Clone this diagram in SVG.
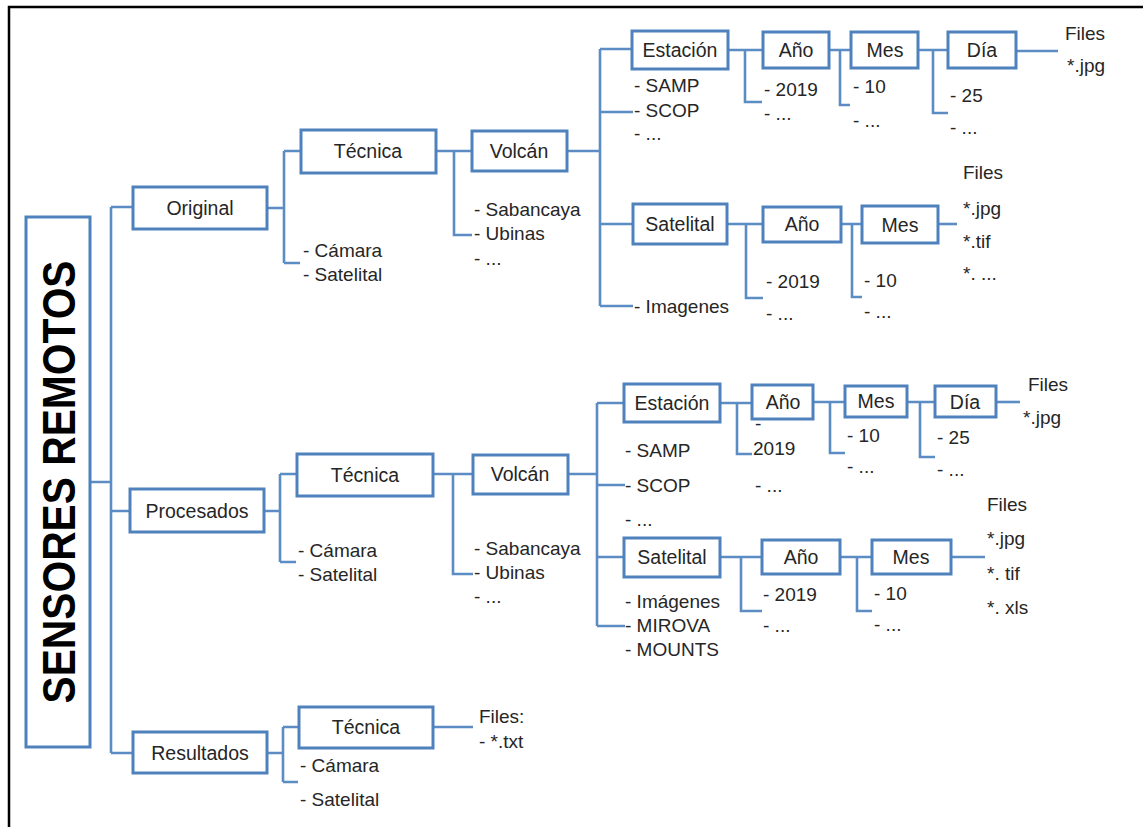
<svg xmlns="http://www.w3.org/2000/svg" width="1143" height="827" viewBox="0 0 1143 827">
<style>
.box{fill:#fff;stroke:#4F81BD;stroke-width:3}
.ln{fill:none;stroke:#5B8CC4;stroke-width:2.6}
text{font-family:"Liberation Sans",Arial,sans-serif;fill:#262626}
.lb{font-size:19.5px;text-anchor:middle}
.t{font-size:19px}
.title{font-size:46px;font-weight:bold;fill:#000;text-anchor:middle}
</style>
<rect x="9" y="7" width="1145" height="830" fill="#fff" stroke="#000" stroke-width="2.5"/>

<g id="connectors">
<path class="ln" d="M90 482H111M111 207V753M111 207H133M111 511H130M111 753H133"/>
<!-- Original -->
<path class="ln" d="M267 208H284M284 151V263M284 151H301M284 263H300"/>
<path class="ln" d="M436 151H472M454 151V235H472"/>
<path class="ln" d="M567 151H600M600 49V306M600 49H632M600 112H633M600 224H633M600 306H633"/>
<path class="ln" d="M728 50H763M745 50V102H762"/>
<path class="ln" d="M829 50H851M840 50V105H850"/>
<path class="ln" d="M918 50H948M933 50V113H948"/>
<path class="ln" d="M1016 51H1058"/>
<path class="ln" d="M727 224H763M746 224V298H763"/>
<path class="ln" d="M841 224H862M852 224V297H862"/>
<path class="ln" d="M938 224H957"/>
<!-- Procesados -->
<path class="ln" d="M264 511H280M280 474V562M280 474H297M280 562H296"/>
<path class="ln" d="M433 474H473M453 474V574H473"/>
<path class="ln" d="M568 474H597M597 403V626M597 403H624M597 485H625M597 557H624M597 626H625"/>
<path class="ln" d="M720 403H752M737 403V454H752"/>
<path class="ln" d="M813 402H845M830 402V453H845"/>
<path class="ln" d="M907 402H935M920 402V457H935"/>
<path class="ln" d="M996 402H1020"/>
<path class="ln" d="M720 557H762M741 557V611H762"/>
<path class="ln" d="M840 557H872M857 557V611H872"/>
<path class="ln" d="M951 557H985"/>
<!-- Resultados -->
<path class="ln" d="M267 753H283M283 727V782M283 727H299M283 782H298"/>
<path class="ln" d="M433 727H473"/>
</g>

<g id="sensores">
<rect class="box" x="26" y="217" width="64" height="530"/>
<text class="title" transform="translate(75 482) rotate(-90)" textLength="443" lengthAdjust="spacingAndGlyphs">SENSORES REMOTOS</text>
</g>

<g id="original"><rect class="box" x="133" y="187" width="134" height="42"/><text class="lb" x="200" y="215">Original</text></g>
<g id="procesados"><rect class="box" x="130" y="489" width="134" height="43"/><text class="lb" x="197" y="518">Procesados</text></g>
<g id="resultados"><rect class="box" x="133" y="732" width="134" height="41"/><text class="lb" x="200" y="760">Resultados</text></g>

<!-- Original branch -->
<g id="tecnica1"><rect class="box" x="301" y="130" width="135" height="43"/><text class="lb" x="368" y="158">Técnica</text></g>
<g id="tecnica1-list"><text class="t" x="303" y="257">- Cámara</text><text class="t" x="303" y="281">- Satelital</text></g>
<g id="volcan1"><rect class="box" x="472" y="131" width="95" height="40"/><text class="lb" x="519" y="158">Volcán</text></g>
<g id="volcan1-list"><text class="t" x="474" y="216">- Sabancaya</text><text class="t" x="474" y="240">- Ubinas</text><text class="t" x="474" y="265">- ...</text></g>
<g id="estacion1"><rect class="box" x="632" y="31" width="96" height="38"/><text class="lb" x="680" y="57">Estación</text></g>
<g id="estacion1-list"><text class="t" x="634" y="92">- SAMP</text><text class="t" x="634" y="117">- SCOP</text><text class="t" x="634" y="140">- ...</text></g>
<g id="anio1"><rect class="box" x="763" y="32" width="66" height="36"/><text class="lb" x="796" y="57">Año</text></g>
<g id="anio1-list"><text class="t" x="764" y="96">- 2019</text><text class="t" x="764" y="120">- ...</text></g>
<g id="mes1"><rect class="box" x="851" y="32" width="67" height="36"/><text class="lb" x="885" y="57">Mes</text></g>
<g id="mes1-list"><text class="t" x="853" y="93">- 10</text><text class="t" x="853" y="127">- ...</text></g>
<g id="dia1"><rect class="box" x="948" y="32" width="68" height="36"/><text class="lb" x="982" y="57">Día</text></g>
<g id="dia1-list"><text class="t" x="950" y="102">- 25</text><text class="t" x="950" y="134">- ...</text></g>
<g id="files1"><text class="t" x="1065" y="40">Files</text><text class="t" x="1067" y="72">*.jpg</text></g>
<g id="satelital1"><rect class="box" x="633" y="204" width="94" height="40"/><text class="lb" x="680" y="231">Satelital</text></g>
<g id="satelital1-list"><text class="t" x="634" y="313">- Imagenes</text></g>
<g id="anio2"><rect class="box" x="763" y="207" width="78" height="35"/><text class="lb" x="802" y="231">Año</text></g>
<g id="anio2-list"><text class="t" x="766" y="288">- 2019</text><text class="t" x="766" y="320">- ...</text></g>
<g id="mes2"><rect class="box" x="862" y="206" width="76" height="37"/><text class="lb" x="900" y="232">Mes</text></g>
<g id="mes2-list"><text class="t" x="864" y="287">- 10</text><text class="t" x="864" y="318">- ...</text></g>
<g id="files2"><text class="t" x="963" y="179">Files</text><text class="t" x="963" y="215">*.jpg</text><text class="t" x="963" y="248">*.tif</text><text class="t" x="963" y="280">*. ...</text></g>

<!-- Procesados branch -->
<g id="tecnica2"><rect class="box" x="297" y="454" width="136" height="42"/><text class="lb" x="365" y="482">Técnica</text></g>
<g id="tecnica2-list"><text class="t" x="298" y="557">- Cámara</text><text class="t" x="298" y="581">- Satelital</text></g>
<g id="volcan2"><rect class="box" x="473" y="455" width="95" height="39"/><text class="lb" x="520" y="481">Volcán</text></g>
<g id="volcan2-list"><text class="t" x="474" y="555">- Sabancaya</text><text class="t" x="474" y="579">- Ubinas</text><text class="t" x="474" y="603">- ...</text></g>
<g id="estacion2"><rect class="box" x="624" y="384" width="96" height="38"/><text class="lb" x="672" y="410">Estación</text></g>
<g id="estacion2-list"><text class="t" x="625" y="457">- SAMP</text><text class="t" x="625" y="492">- SCOP</text><text class="t" x="625" y="526">- ...</text></g>
<g id="anio3"><rect class="box" x="752" y="385" width="61" height="34"/><text class="lb" x="783" y="409">Año</text></g>
<g id="anio3-list"><text class="t" x="755" y="430">-</text><text class="t" x="753" y="455">2019</text><text class="t" x="755" y="492">- ...</text></g>
<g id="mes3"><rect class="box" x="845" y="386" width="62" height="31"/><text class="lb" x="876" y="408">Mes</text></g>
<g id="mes3-list"><text class="t" x="847" y="442">- 10</text><text class="t" x="847" y="473">- ...</text></g>
<g id="dia3"><rect class="box" x="935" y="386" width="61" height="31"/><text class="lb" x="965" y="409">Día</text></g>
<g id="dia3-list"><text class="t" x="937" y="444">- 25</text><text class="t" x="937" y="476">- ...</text></g>
<g id="files3"><text class="t" x="1028" y="391">Files</text><text class="t" x="1023" y="424">*.jpg</text></g>
<g id="satelital2"><rect class="box" x="624" y="538" width="96" height="39"/><text class="lb" x="672" y="564">Satelital</text></g>
<g id="satelital2-list"><text class="t" x="625" y="608">- Imágenes</text><text class="t" x="625" y="632">- MIROVA</text><text class="t" x="625" y="656">- MOUNTS</text></g>
<g id="anio4"><rect class="box" x="762" y="540" width="78" height="34"/><text class="lb" x="801" y="564">Año</text></g>
<g id="anio4-list"><text class="t" x="763" y="601">- 2019</text><text class="t" x="763" y="632">- ...</text></g>
<g id="mes4"><rect class="box" x="872" y="540" width="79" height="34"/><text class="lb" x="911" y="564">Mes</text></g>
<g id="mes4-list"><text class="t" x="874" y="600">- 10</text><text class="t" x="874" y="631">- ...</text></g>
<g id="files4"><text class="t" x="987" y="511">Files</text><text class="t" x="987" y="545">*.jpg</text><text class="t" x="987" y="580">*. tif</text><text class="t" x="987" y="614">*. xls</text></g>

<!-- Resultados branch -->
<g id="tecnica3"><rect class="box" x="299" y="707" width="134" height="41"/><text class="lb" x="366" y="734">Técnica</text></g>
<g id="tecnica3-list"><text class="t" x="300" y="772">- Cámara</text><text class="t" x="300" y="806">- Satelital</text></g>
<g id="files5"><text class="t" x="479" y="723">Files:</text><text class="t" x="479" y="748">- *.txt</text></g>
</svg>
